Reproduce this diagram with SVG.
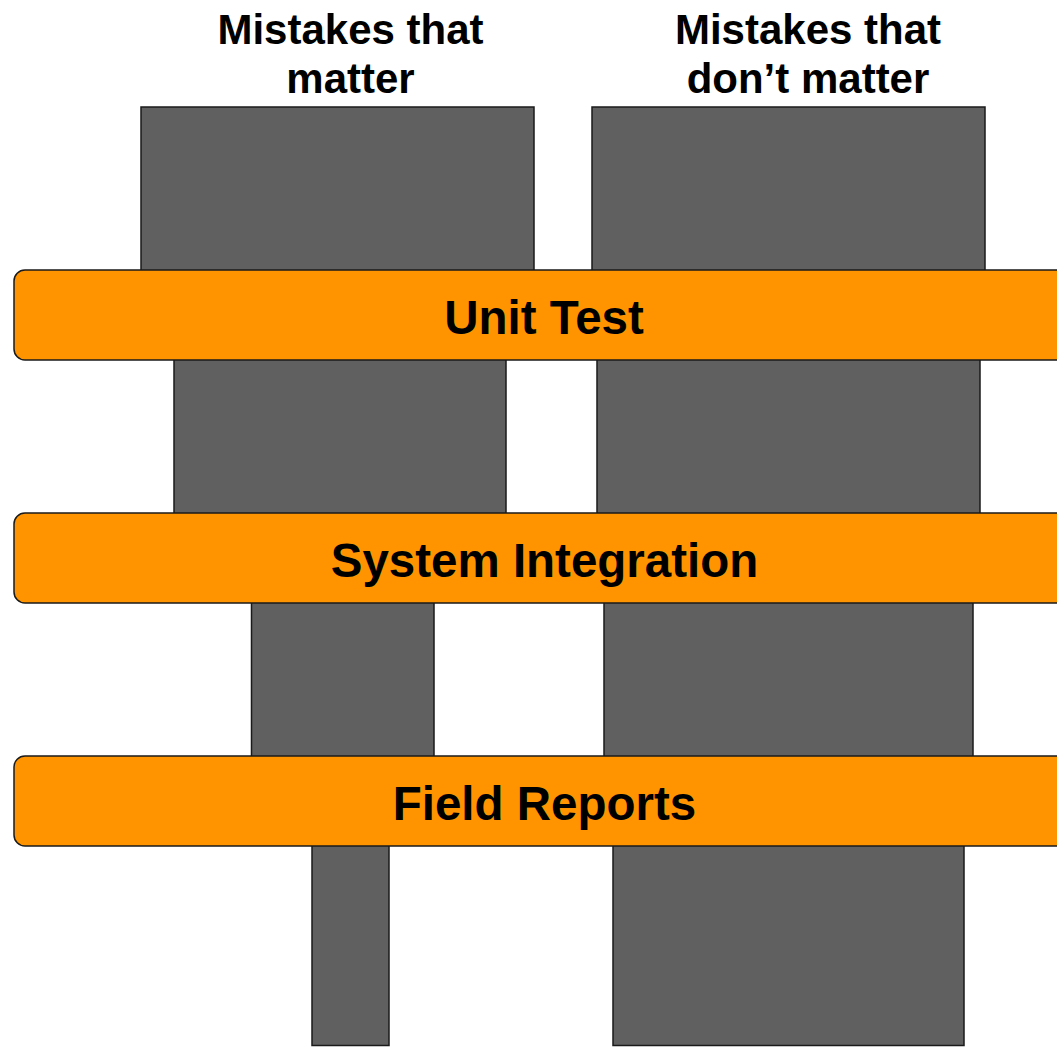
<svg xmlns="http://www.w3.org/2000/svg" width="1057" height="1047" viewBox="0 0 1057 1047">
<style>
.blk{fill:#606060;stroke:#1a1a1a;stroke-width:1.5}
.bar{fill:#ff9400;stroke:#1a1a1a;stroke-width:1.5}
.hd{font-family:"Liberation Sans",Arial,sans-serif;font-weight:bold;font-size:42px;fill:#000;text-anchor:middle}
.lb{font-family:"Liberation Sans",Arial,sans-serif;font-weight:bold;font-size:47.5px;fill:#000;text-anchor:middle}
</style>
<rect width="1057" height="1047" fill="#fff"/>
<g id="headers">
<text class="hd" x="350.5" y="44">Mistakes that</text>
<text class="hd" x="350.5" y="93">matter</text>
<text class="hd" x="808" y="44">Mistakes that</text>
<text class="hd" x="808" y="93">don’t matter</text>
</g>
<g id="blocks">
<rect class="blk" x="141" y="107" width="393" height="170"/>
<rect class="blk" x="592" y="107" width="393" height="170"/>
<rect class="blk" x="174" y="355" width="332" height="165"/>
<rect class="blk" x="597" y="355" width="383" height="165"/>
<rect class="blk" x="251.5" y="598" width="182.5" height="165"/>
<rect class="blk" x="604" y="598" width="369" height="165"/>
<rect class="blk" x="312" y="840" width="77" height="205.5"/>
<rect class="blk" x="613" y="840" width="351" height="205.5"/>
</g>
<g id="unit-test">
<rect class="bar" x="14" y="270" width="1070" height="90" rx="11"/>
<text class="lb" x="544" y="334">Unit Test</text>
</g>
<g id="system-integration">
<rect class="bar" x="14" y="513" width="1070" height="90" rx="11"/>
<text class="lb" x="544.5" y="577">System Integration</text>
</g>
<g id="field-reports">
<rect class="bar" x="14" y="756" width="1070" height="90" rx="11"/>
<text class="lb" x="544.5" y="820">Field Reports</text>
</g>
</svg>
